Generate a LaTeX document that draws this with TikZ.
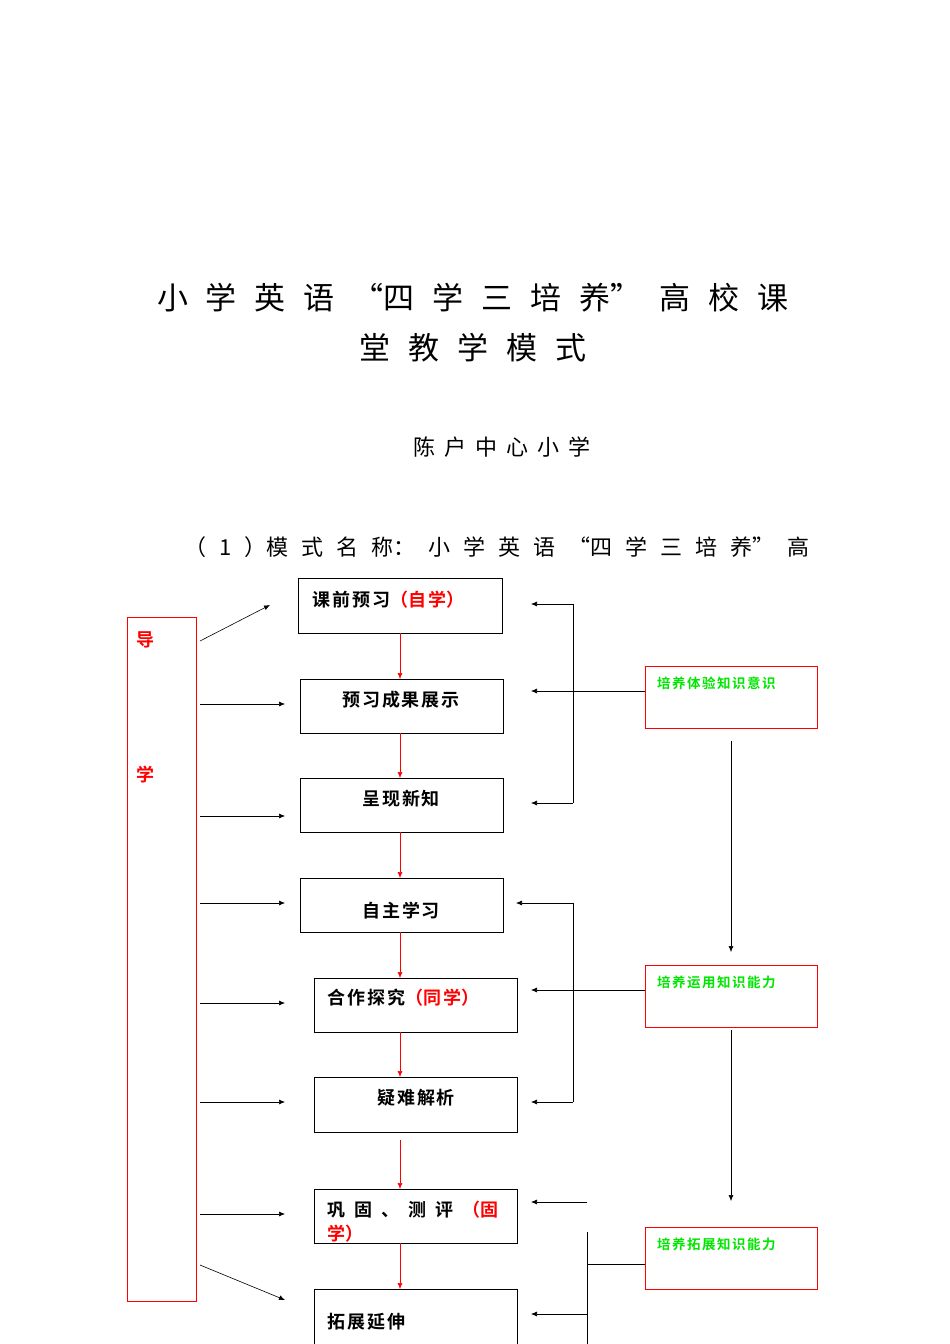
\documentclass[tikz,border=0pt]{standalone}
\usepackage{fontspec}
\newfontfamily\cjk{Noto Sans CJK SC}
\newfontfamily\cjkb{Noto Sans CJK SC Bold}
\usetikzlibrary{arrows.meta}
\definecolor{gr}{RGB}{0,230,0}
\newcommand\gA{\hspace{18pt}}
\newcommand\gB{\hspace{13pt}}
\newcommand\gC{\hspace{9pt}}
\newcommand\gG{\hspace{1.5pt}}
\newcommand\gT{\hspace{2pt}}
\begin{document}
\begin{tikzpicture}[x=1pt,y=-1pt,
 bx/.style={draw,line width=0.8pt},
 rbx/.style={draw=red,line width=0.8pt},
 ar/.style={-{Latex[length=6pt,width=5pt]},line width=0.6pt},
 rar/.style={ar,red},
 t/.style={font=\cjkb\fontsize{18}{20}\selectfont,inner sep=0pt},
 g/.style={font=\cjkb\fontsize{13.5}{15}\selectfont,text=gr,inner sep=0pt,anchor=west}]
\useasboundingbox (0,0) rectangle (950,1344);
\node[font=\cjk\fontsize{31}{33}\selectfont] (t1) at (473,298) {小\gA 学\gA 英\gA 语\gA “四\gA 学\gA 三\gA 培\gA 养”\gA 高\gA 校\gA 课};
\node[font=\cjk\fontsize{31}{33}\selectfont] (t2) at (473,348) {堂\gA 教\gA 学\gA 模\gA 式};
\node[font=\cjk\fontsize{22}{24}\selectfont] (t3) at (502,447) {陈\gC 户\gC 中\gC 心\gC 小\gC 学};
\node[font=\cjk\fontsize{22}{24}\selectfont] (t4) at (497,547) {（\gB 1\gB ）模\gB 式\gB 名\gB 称：\gB 小\gB 学\gB 英\gB 语\gB “四\gB 学\gB 三\gB 培\gB 养”\gB 高};
% left box
\draw[rbx] (127,617) rectangle (196,1301);
\node[t,text=red] (d1) at (145,640) {导};
\node[t,text=red] (d2) at (145,775) {学};
% boxes
\draw[bx] (298,578) rectangle (502,633);
\node[t,anchor=west] at (312,600) {课\gT 前\gT 预\gT 习\textcolor{red}{（自\gT 学）}};
\draw[bx] (300,679) rectangle (503,733);
\node[t] at (401,700) {预\gT 习\gT 成\gT 果\gT 展\gT 示};
\draw[bx] (300,778) rectangle (503,832);
\node[t] at (401,799) {呈\gT 现\gT 新\gT 知};
\draw[bx] (300,878) rectangle (503,932);
\node[t] at (401,911) {自\gT 主\gT 学\gT 习};
\draw[bx] (314,978) rectangle (517,1032);
\node[t,anchor=west] at (327,998) {合\gT 作\gT 探\gT 究\textcolor{red}{（同\gT 学）}};
\draw[bx] (314,1077) rectangle (517,1132);
\node[t] at (416,1098) {疑\gT 难\gT 解\gT 析};
\draw[bx] (314,1189) rectangle (517,1243);
\node[t,anchor=west] at (327,1210) {巩\hspace{9pt}固\hspace{9pt}、\hspace{9pt}测\hspace{9pt}评\hspace{9pt}\textcolor{red}{（固}};
\node[t,anchor=west,text=red] at (327,1234) {学）};
\draw[bx] (314,1289) rectangle (517,1344);
\node[t,anchor=west] at (327,1322) {拓\gT 展\gT 延\gT 伸};
% red arrows
\draw[rar] (400,633) -- (400,679);
\draw[rar] (400,733) -- (400,778);
\draw[rar] (400,832) -- (400,878);
\draw[rar] (400,932) -- (400,978);
\draw[rar] (400,1032) -- (400,1077);
\draw[rar] (400,1140) -- (400,1189);
\draw[rar] (400,1243) -- (400,1289);
% left arrows
\draw[ar] (200,641) -- (270,605);
\foreach \y in {704,816,903,1003,1102,1214} \draw[ar] (200,\y) -- (285,\y);
\draw[ar] (200,1265) -- (285,1300);
% right brackets
\draw[line width=0.6pt] (573,604) -- (573,803);
\draw[ar] (573,604) -- (531,604);
\draw[ar] (573,803) -- (531,803);
\draw[ar] (645,691) -- (531,691);
\draw[line width=0.6pt] (573,903) -- (573,1102);
\draw[ar] (573,903) -- (516,903);
\draw[ar] (573,1102) -- (531,1102);
\draw[ar] (645,990) -- (531,990);
\draw[line width=0.6pt] (587,1232) -- (587,1344);
\draw[ar] (587,1202) -- (531,1202);
\draw[line width=0.6pt] (587,1264) -- (645,1264);
\draw[ar] (587,1314) -- (531,1314);
% green boxes
\draw[rbx] (645,666) rectangle (817,728);
\node[g] at (657,683) {培\gG 养\gG 体\gG 验\gG 知\gG 识\gG 意\gG 识};
\draw[rbx] (645,965) rectangle (817,1027);
\node[g] at (657,982) {培\gG 养\gG 运\gG 用\gG 知\gG 识\gG 能\gG 力};
\draw[rbx] (645,1227) rectangle (817,1289);
\node[g] at (657,1244) {培\gG 养\gG 拓\gG 展\gG 知\gG 识\gG 能\gG 力};
\draw[ar] (731,741) -- (731,952);
\draw[ar] (731,1030) -- (731,1201);
\end{tikzpicture}
\end{document}
